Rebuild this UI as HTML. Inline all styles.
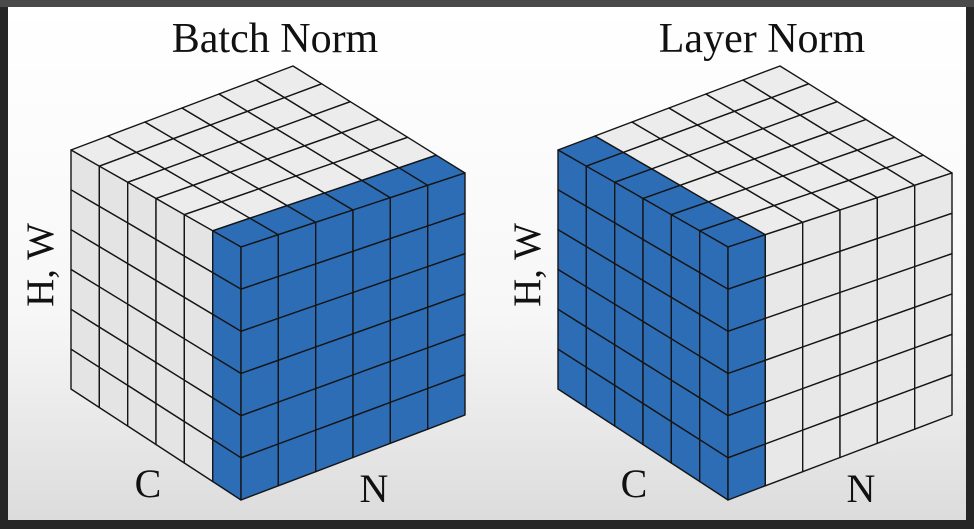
<!DOCTYPE html>
<html><head><meta charset="utf-8">
<style>
html,body{margin:0;padding:0;background:#262626;}
#wrap{position:relative;width:974px;height:529px;overflow:hidden;background:#262626;}
svg{position:absolute;left:0;top:0;}
</style></head>
<body>
<div id="wrap">
<svg id="svg" width="974" height="529" viewBox="0 0 974 529">
<defs>
<linearGradient id="bg" x1="0" y1="0" x2="0" y2="1">
<stop offset="0" stop-color="#ffffff"/><stop offset="0.6" stop-color="#f7f7f7"/><stop offset="1" stop-color="#dcdcdc"/>
</linearGradient>
</defs>
<rect x="0" y="0" width="974" height="7" fill="#4a4a4a"/>
<rect x="8" y="7" width="958" height="513" fill="url(#bg)"/>
<g id="cubes"></g>
<text x="275" y="52" font-family="Liberation Serif, serif" font-size="42" text-anchor="middle" fill="#111">Batch Norm</text>
<text x="762" y="52" font-family="Liberation Serif, serif" font-size="42" text-anchor="middle" fill="#111">Layer Norm</text>
<text transform="translate(53,265) rotate(-90)" font-family="Liberation Serif, serif" font-size="39" text-anchor="middle" fill="#111">H, W</text>
<text transform="translate(540,265) rotate(-90)" font-family="Liberation Serif, serif" font-size="39" text-anchor="middle" fill="#111">H, W</text>
<text x="148" y="497" font-family="Liberation Serif, serif" font-size="40" text-anchor="middle" fill="#111">C</text>
<text x="374" y="502" font-family="Liberation Serif, serif" font-size="40" text-anchor="middle" fill="#111">N</text>
<text x="634" y="497" font-family="Liberation Serif, serif" font-size="40" text-anchor="middle" fill="#111">C</text>
<text x="861" y="502" font-family="Liberation Serif, serif" font-size="40" text-anchor="middle" fill="#111">N</text>
</svg>
</div>
<script>
// data: grid size and which slice is highlighted for each cube
const gridC = 6, gridN = 6, gridH = 6;
const cubeNames = ["batch-norm-cube", "layer-norm-cube"];
const highlightAxis = ["C", "N"];      // axis of highlighted slice
const highlightIndex = [5, 0];          // index along that axis

const NS = "http://www.w3.org/2000/svg";
const BLUE = "#2c6db6", WT = "#ececec", WL = "#e4e4e4", WF = "#e8e8e8";
const offsets = [0, 487];
// cube corners (for offset 0)
const K = {A:[71,150], B:[293,66], R:[465,173], F:[241,247], Ab:[71,389], Fb:[241,500], Rb:[465,415]};
const root = document.getElementById("cubes");

function bil(P00,P10,P01,P11,u,v){
  return [ (1-u)*(1-v)*P00[0]+u*(1-v)*P10[0]+(1-u)*v*P01[0]+u*v*P11[0],
           (1-u)*(1-v)*P00[1]+u*(1-v)*P10[1]+(1-u)*v*P01[1]+u*v*P11[1] ];
}
function poly(g, pts, fill, name){
  const p = document.createElementNS(NS,"polygon");
  p.setAttribute("points", pts.map(q=>q[0].toFixed(1)+","+q[1].toFixed(1)).join(" "));
  p.setAttribute("fill", fill);
  p.setAttribute("stroke", "#151515");
  p.setAttribute("stroke-width", "1.4");
  p.setAttribute("stroke-linejoin", "round");
  
  
  g.appendChild(p);
}
function face(g, P00,P10,P01,P11, nu, nv, colorFn, name){
  for (let i=0;i<nu;i++) for (let j=0;j<nv;j++){
    const a=bil(P00,P10,P01,P11,i/nu,j/nv), b=bil(P00,P10,P01,P11,(i+1)/nu,j/nv),
          c=bil(P00,P10,P01,P11,(i+1)/nu,(j+1)/nv), d=bil(P00,P10,P01,P11,i/nu,(j+1)/nv);
    poly(g,[a,b,c,d], colorFn(i,j), name);
  }
}
cubeNames.forEach((nm, k) => {
  const g = document.createElementNS(NS,"g");
  
  
  root.appendChild(g);
  const dx = offsets[k];
  const P = {}; for (const key in K) P[key] = [K[key][0]+dx, K[key][1]];
  const ax = highlightAxis[k], ix = highlightIndex[k];
  const isBlue = (c, n) => (ax === "C" ? c === ix : n === ix);
  // top face: u=c, v=n
  face(g, P.A, P.F, P.B, P.R, gridC, gridN, (c,n)=> isBlue(c,n)?BLUE:WT, "top-cell");
  // left face: u=c, v=h
  face(g, P.A, P.F, P.Ab, P.Fb, gridC, gridH, (c,h)=> isBlue(c,0)?BLUE:WL, "side-cell");
  // front face: u=n, v=h
  face(g, P.F, P.R, P.Fb, P.Rb, gridN, gridH, (n,h)=> isBlue(gridC-1,n)?BLUE:WF, "front-cell");
});
</script>
</body></html>
